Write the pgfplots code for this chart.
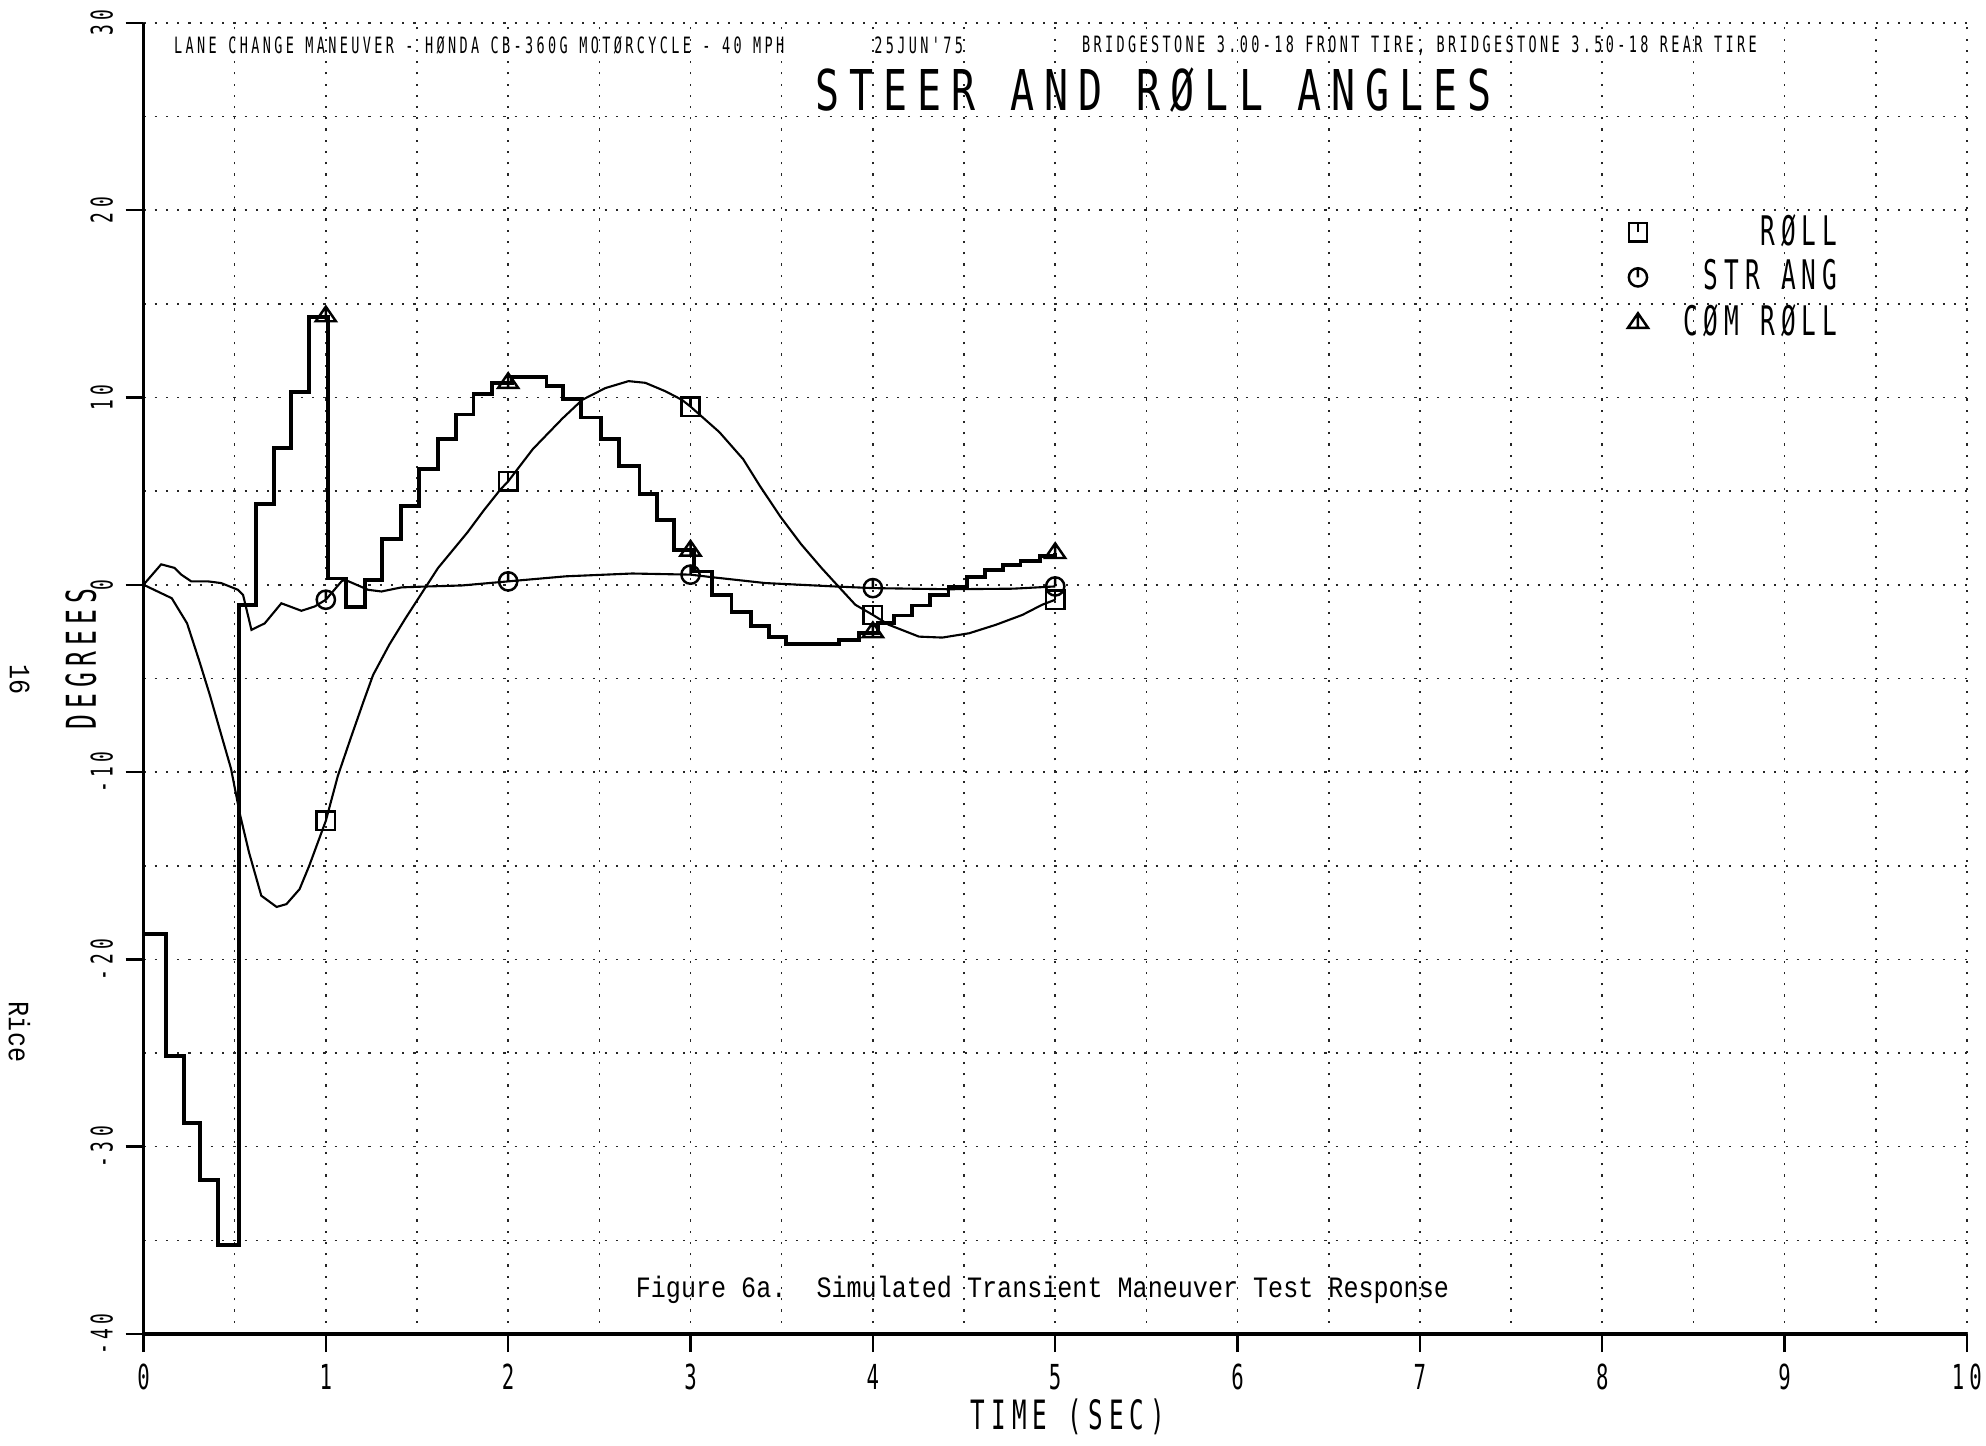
\documentclass[border=0pt]{standalone}
\usepackage{fontspec}
\usepackage{pgfplots}
\pgfplotsset{compat=1.18}
\newfontfamily\plotfont{DejaVu Sans Mono}[FakeStretch=0.6,LetterSpace=15]
\newfontfamily\titlefont{DejaVu Sans Mono}[FakeStretch=0.71,LetterSpace=18]
\newfontfamily\typefont{Liberation Mono}[FakeStretch=0.85]
\newcommand\pf[1]{\fontsize{#1}{#1}\plotfont}
\newcommand\tf[1]{\fontsize{#1}{#1}\typefont}

% plotter symbols: outline with a short stroke from the centre upwards
\pgfdeclareplotmark{sqt}{%
  \pgfpathrectangle{\pgfpoint{-\pgfplotmarksize}{-\pgfplotmarksize}}{\pgfpoint{2\pgfplotmarksize}{2\pgfplotmarksize}}%
  \pgfpathmoveto{\pgfpointorigin}\pgfpathlineto{\pgfpoint{0pt}{\pgfplotmarksize}}%
  \pgfusepathqstroke}
\pgfdeclareplotmark{cit}{%
  \pgfpathcircle{\pgfpointorigin}{\pgfplotmarksize}%
  \pgfpathmoveto{\pgfpointorigin}\pgfpathlineto{\pgfpoint{0pt}{\pgfplotmarksize}}%
  \pgfusepathqstroke}
\pgfdeclareplotmark{trt}{%
  \pgfpathmoveto{\pgfpoint{0pt}{\pgfplotmarksize}}%
  \pgfpathlineto{\pgfpoint{-1.1\pgfplotmarksize}{-0.6\pgfplotmarksize}}%
  \pgfpathlineto{\pgfpoint{1.1\pgfplotmarksize}{-0.6\pgfplotmarksize}}%
  \pgfpathclose
  \pgfpathmoveto{\pgfpoint{0pt}{-0.6\pgfplotmarksize}}\pgfpathlineto{\pgfpoint{0pt}{\pgfplotmarksize}}%
  \pgfusepathqstroke}

\begin{document}
\begin{tikzpicture}
\useasboundingbox (0,0) rectangle (19.86,14.45);
\begin{axis}[
  at={(1.435cm,1.11cm)}, anchor=south west,
  width=18.234cm, height=13.112cm, scale only axis,
  xmin=0, xmax=10, ymin=-40, ymax=30,
  axis lines=left, axis line style={-},
  x axis line style={line width=1.1pt},
  y axis line style={line width=0.8pt},
  xtick={0,1,2,3,4,5,6,7,8,9,10},
  xticklabels={0,1,2,3,4,5,6,7,8,9,10},
  ytick={-40,-30,-20,-10,0,10,20,30},
  yticklabels={-40,-30,-20,-10,0,10,20,30},
  minor x tick num=1, minor y tick num=1,
  grid=both,
  major grid style={black!85, line width=0.45pt, dash pattern=on 0.6pt off 2.6pt},
  minor grid style={black!85, line width=0.45pt, dash pattern=on 0.6pt off 2.6pt},
  tick align=outside, major tick length=0.18cm, minor tick length=0pt,
  tick style={black, line width=0.7pt},
  xticklabel style={font=\pf{9.8pt}},
  yticklabel style={font=\pf{8.5pt}, rotate=90, anchor=south},
  clip=false,
  legend style={at={(axis cs:8.137,20.05)}, anchor=north west, draw=none, fill=none,
    font=\pf{11.6pt}, inner sep=0pt, row sep=0pt, column sep=0.35cm,
    nodes={inner sep=0pt, minimum height=0.45cm}},
  legend cell align=right,
  legend image code/.code={\draw[#1] plot coordinates {(0cm,0cm)};},
]
% ROLL
\addplot[black, line width=0.6pt, forget plot] coordinates {
(0,0) (0.155,-0.72) (0.239,-2.06) (0.307,-4.10) (0.364,-5.89) (0.422,-7.86)
(0.48,-9.82) (0.53,-12.3) (0.579,-14.3) (0.646,-16.6) (0.73,-17.2) (0.784,-17.05)
(0.856,-16.25) (0.909,-15.0) (1.0,-12.6) (1.066,-10.2) (1.136,-8.2) (1.206,-6.25)
(1.259,-4.82) (1.348,-3.2) (1.437,-1.79) (1.526,-0.45) (1.615,0.89) (1.777,2.80)
(1.867,3.98) (1.956,5.07) (2.0,5.52) (2.135,7.24) (2.298,8.88) (2.406,9.87)
(2.533,10.5) (2.66,10.87) (2.752,10.78) (2.862,10.33) (2.953,9.87) (3.0,9.51)
(3.158,8.15) (3.289,6.70) (3.382,5.25) (3.494,3.62) (3.606,2.17) (3.718,0.90)
(3.811,-0.09) (3.904,-1.07) (4.0,-1.61) (4.088,-2.14) (4.253,-2.77) (4.381,-2.82)
(4.528,-2.59) (4.674,-2.14) (4.82,-1.61) (4.928,-1.07) (5.0,-0.80)};
% STR ANG
\addplot[black, line width=0.6pt, forget plot] coordinates {
(0,0) (0.097,1.09) (0.17,0.90) (0.207,0.54) (0.262,0.18) (0.353,0.18) (0.426,0.09)
(0.518,-0.27) (0.546,-0.54) (0.592,-2.41) (0.665,-2.06) (0.756,-0.99) (0.866,-1.39)
(0.939,-1.16) (1.0,-0.80) (1.086,0.18) (1.104,0.27) (1.232,-0.27) (1.305,-0.36)
(1.415,-0.14) (1.561,-0.09) (1.744,-0.04) (2.0,0.18) (2.316,0.45) (2.68,0.60)
(3.0,0.54) (3.12,0.40) (3.41,0.09) (3.79,-0.09) (4.0,-0.18) (4.42,-0.24)
(4.77,-0.21) (5.0,-0.09)};
% COM ROLL (held between samples)
\addplot[black, line width=1.1pt, const plot, forget plot] coordinates {
(0,-18.65) (0.125,-25.17) (0.22,-28.75) (0.31,-31.78) (0.41,-35.23) (0.525,-1.1)
(0.615,4.31) (0.715,7.28) (0.81,10.27) (0.91,14.3) (1.01,0.33) (1.11,-1.2)
(1.215,0.27) (1.31,2.45) (1.41,4.2) (1.51,6.16) (1.615,7.79) (1.715,9.09)
(1.81,10.2) (1.91,10.75) (2.02,11.1) (2.21,10.6) (2.30,9.92) (2.40,8.93)
(2.51,7.79) (2.61,6.34) (2.72,4.85) (2.815,3.44) (2.91,1.85) (3.02,0.71)
(3.12,-0.54) (3.225,-1.45) (3.33,-2.2) (3.43,-2.79) (3.525,-3.16) (3.815,-2.95)
(3.925,-2.59) (4.03,-2.06) (4.115,-1.64) (4.215,-1.11) (4.315,-0.54) (4.415,-0.09)
(4.515,0.40) (4.615,0.79) (4.715,1.05) (4.81,1.27) (4.915,1.54) (5.0,1.72)};
% symbols every second
\addplot[only marks, mark=sqt, mark size=2.6pt, line width=0.7pt] coordinates {
(1,-12.6) (2,5.52) (3,9.51) (4,-1.61) (5,-0.8)};
\addlegendentry{RØLL}
\addplot[only marks, mark=cit, mark size=2.6pt, line width=0.7pt] coordinates {
(1,-0.8) (2,0.18) (3,0.54) (4,-0.18) (5,-0.09)};
\addlegendentry{STR ANG}
\addplot[only marks, mark=trt, mark size=2.6pt, line width=0.7pt] coordinates {
(1,14.36) (2,10.8) (3,1.85) (4,-2.5) (5,1.72)};
\addlegendentry{CØM RØLL}

\node[anchor=west, font=\pf{6.4pt}] at (axis cs:0.10,28.79) {LANE CHANGE MANEUVER - HØNDA CB-360G MOTØRCYCLE - 40 MPH};
\node[anchor=west, font=\pf{6.4pt}] at (axis cs:3.94,28.79) {25JUN'75};
\node[anchor=west, font=\pf{6.4pt}] at (axis cs:5.08,28.79) {BRIDGESTONE 3.00-18 FRONT TIRE, BRIDGESTONE 3.50-18 REAR TIRE};
\node[font=\fontsize{16pt}{16pt}\titlefont] at (axis cs:5.54,26.39) {STEER AND RØLL ANGLES};
\node[rotate=90, font=\pf{11.7pt}] at (axis cs:-0.343,-3.96) {DEGREES};
\node[font=\pf{11.5pt}] at (axis cs:5.07,-44.4) {TIME (SEC)};
\node[font=\tf{8.4pt}] at (axis cs:4.93,-37.65) {Figure 6a.\ \ Simulated Transient Maneuver Test Response};
\node[rotate=-90, font=\tf{8.4pt}] at (axis cs:-0.68,-5.08) {16};
\node[rotate=-90, font=\tf{8.4pt}] at (axis cs:-0.68,-23.88) {Rice};
\end{axis}
\end{tikzpicture}
\end{document}
